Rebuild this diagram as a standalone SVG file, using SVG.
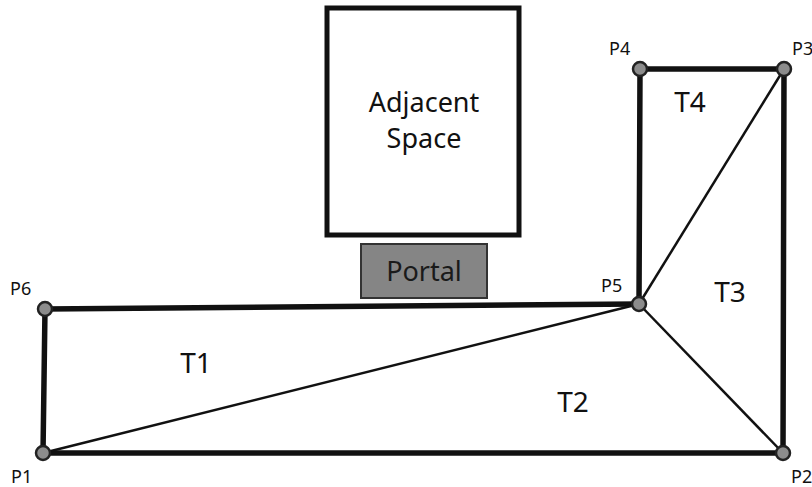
<svg xmlns="http://www.w3.org/2000/svg" width="812" height="487" viewBox="0 0 812 487">
<style>
.thick{stroke:#111;stroke-width:5.5;fill:none;stroke-linecap:round}
.thin{stroke:#111;stroke-width:2.5;fill:none}
.pt{fill:#8c8c8c;stroke:#222;stroke-width:2.5}
.plab{font-family:"Noto Sans","Liberation Sans",sans-serif;font-size:18px;fill:#111}
.tlab{font-family:"Noto Sans","Liberation Sans",sans-serif;font-size:28px;fill:#111;text-anchor:middle}
.big{font-family:"Noto Sans","Liberation Sans",sans-serif;font-size:27px;fill:#111;text-anchor:middle}
</style>
<rect width="812" height="487" fill="#fff"/>
<g id="adjacent-space">
<rect x="327" y="8" width="192" height="227" fill="#fff" stroke="#111" stroke-width="5"/>
<text class="big" x="424" y="112">Adjacent</text>
<text class="big" x="424" y="148">Space</text>
</g>
<g id="portal">
<rect x="361" y="244" width="126" height="54" fill="#858585" stroke="#333" stroke-width="2"/>
<text class="big" x="424" y="281" style="fill:#1a1a1a">Portal</text>
</g>
<g id="connectors">
<line class="thick" x1="43" y1="453" x2="45" y2="309"/>
<line class="thick" x1="45" y1="309" x2="639" y2="304"/>
<line class="thick" x1="639" y1="304" x2="640" y2="69"/>
<line class="thick" x1="640" y1="69" x2="784" y2="69"/>
<line class="thick" x1="784" y1="69" x2="783" y2="453"/>
<line class="thick" x1="783" y1="453" x2="43" y2="453"/>
<line class="thin" x1="43" y1="453" x2="639" y2="304"/>
<line class="thin" x1="639" y1="304" x2="784" y2="69"/>
<line class="thin" x1="639" y1="304" x2="783" y2="453"/>
</g>
<g id="P1"><circle class="pt" cx="43" cy="453" r="7"/><text class="plab" x="11" y="483">P1</text></g>
<g id="P2"><circle class="pt" cx="783" cy="453" r="7"/><text class="plab" x="791" y="483">P2</text></g>
<g id="P3"><circle class="pt" cx="784" cy="69" r="7"/><text class="plab" x="792" y="55">P3</text></g>
<g id="P4"><circle class="pt" cx="640" cy="69" r="7"/><text class="plab" x="609" y="55">P4</text></g>
<g id="P5"><circle class="pt" cx="639" cy="304" r="7"/><text class="plab" x="601" y="292">P5</text></g>
<g id="P6"><circle class="pt" cx="45" cy="309" r="7"/><text class="plab" x="10" y="295">P6</text></g>
<g id="T1"><text class="tlab" x="196" y="373">T1</text></g>
<g id="T2"><text class="tlab" x="573" y="412">T2</text></g>
<g id="T3"><text class="tlab" x="730" y="302">T3</text></g>
<g id="T4"><text class="tlab" x="690" y="112">T4</text></g>
</svg>
